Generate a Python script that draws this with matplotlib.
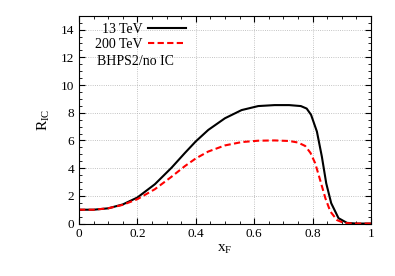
import matplotlib
matplotlib.use("Agg")
import matplotlib.pyplot as plt
from matplotlib.ticker import MultipleLocator

plt.rcParams["font.family"] = "Liberation Serif"
plt.rcParams["mathtext.fontset"] = "custom"
plt.rcParams["mathtext.rm"] = "Liberation Serif"
plt.rcParams["mathtext.it"] = "Liberation Serif:italic"

# values
xf_13 = [0.0, 0.05, 0.1, 0.15, 0.2, 0.26, 0.317, 0.363, 0.4, 0.443, 0.5, 0.557,
         0.614, 0.67, 0.72, 0.76, 0.78, 0.795, 0.815, 0.832, 0.847, 0.864,
         0.889, 0.918, 0.95, 1.0]
r_13 = [1.0, 1.0, 1.1, 1.38, 1.88, 2.84, 4.03, 5.1, 5.93, 6.76, 7.6, 8.19,
        8.48, 8.55, 8.55, 8.48, 8.3, 7.85, 6.64, 4.83, 2.9, 1.47,
        0.39, 0.05, 0.0, 0.0]

xf_200 = [0.0, 0.05, 0.1, 0.15, 0.2, 0.26, 0.317, 0.363, 0.4, 0.443, 0.5, 0.557,
          0.614, 0.67, 0.72, 0.75, 0.775, 0.793, 0.809, 0.826, 0.844, 0.861,
          0.884, 0.907, 0.94, 1.0]
r_200 = [1.0, 1.0, 1.1, 1.35, 1.76, 2.48, 3.38, 4.15, 4.7, 5.2, 5.64, 5.88,
         5.98, 6.0, 5.96, 5.85, 5.6, 5.1, 4.36, 3.15, 1.83, 0.87,
         0.25, 0.05, 0.0, 0.0]

fig = plt.figure(figsize=(3.95, 2.76), dpi=100)
ax = fig.add_axes([0.2, 0.19, 0.739, 0.753])

ax.plot(xf_13, r_13, "-", color="black", lw=1.5, label="13 TeV")
ax.plot(xf_200, r_200, "--", color="red", lw=1.5, dashes=(3, 1.6), label="200 TeV")

ax.set_xlim(0, 1)
ax.set_ylim(0, 15)
ax.xaxis.set_minor_locator(MultipleLocator(0.05))
ax.yaxis.set_minor_locator(MultipleLocator(0.5))
ax.set_xticks([0, 0.2, 0.4, 0.6, 0.8, 1.0])
ax.set_xticklabels(["0", "0.2", "0.4", "0.6", "0.8", "1"])
ax.set_yticks([0, 2, 4, 6, 8, 10, 12, 14])
ax.tick_params(which="both", direction="in", top=True, right=True, labelsize=9.5)
ax.tick_params(which="major", length=4, width=0.8)
ax.tick_params(which="minor", length=2, width=0.6)
ax.grid(True, which="major", color="#b0b0b0", ls=":", lw=0.6)

ax.set_xlabel(r"x$_{\rm F}$", fontsize=11, labelpad=2)
ax.set_ylabel(r"R$_{\rm IC}$", fontsize=11, labelpad=6)

ax.legend(loc="upper right", bbox_to_anchor=(0.366, 0.966), frameon=False,
          markerfirst=False, fontsize=10, handlelength=2.7,
          handletextpad=0.4, borderaxespad=0.0, borderpad=0.0,
          labelspacing=0.18)
ax.text(0.063, 0.779, "BHPS2/no IC", transform=ax.transAxes, fontsize=10,
        va="center", ha="left")

fig.savefig("out.png", dpi=100)
